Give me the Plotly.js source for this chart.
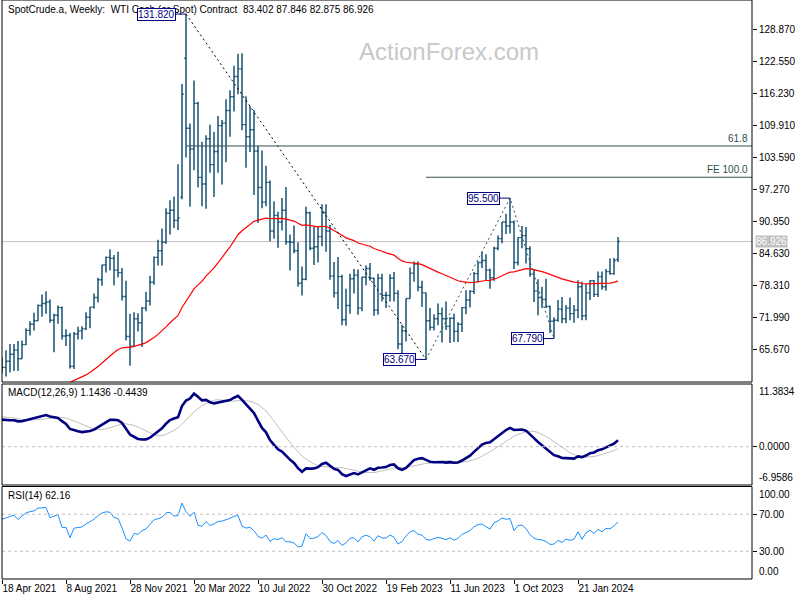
<!DOCTYPE html>
<html><head><meta charset="utf-8">
<script src="https://cdn.plot.ly/plotly-3.0.1.min.js"></script>
<style>html,body{margin:0;padding:0;background:#fff}#chart{width:800px;height:600px}</style>
</head><body><div id="chart"></div>
<script>
// ---------- data ----------
const tickBars = [0, 16, 32, 48, 64, 80, 96, 112, 128, 144];
const tickLabels = ['18 Apr 2021','8 Aug 2021','28 Nov 2021','20 Mar 2022','10 Jul 2022','30 Oct 2022','19 Feb 2023','11 Jun 2023','1 Oct 2023','21 Jan 2024'];
const priceTicks = [65.67, 71.99, 78.31, 84.63, 90.95, 97.27, 103.59, 109.91, 116.23, 122.55, 128.87];

// weekly closes before the first visible bar (indicator warm-up only, not drawn)
const historyCloses = [57.51,60.21,55.63,56.20,55.66,54.50,54.87,54.17,55.10,56.52,54.85,58.09,55.91,52.81,54.70,53.78,56.66,56.20,57.24,57.72,57.77,55.17,59.20,60.07,60.44,61.72,
63.05,59.04,58.54,54.19,51.56,50.32,52.05,53.38,44.76,41.28,31.73,22.43,21.51,28.34,22.76,18.27,16.94,19.78,24.74,29.43,33.25,35.49,39.55,36.26,39.75,38.49,40.65,40.55,40.59,41.29,40.27,41.22,42.01,42.34,42.97,39.77,37.33,41.11,40.25,37.05,40.60,40.88,39.85,35.79,37.14,40.13,42.15,45.53,46.26,46.57,49.10,48.23,
48.52,52.24,52.36,52.27,52.20,56.85,59.47,59.24,61.50,66.09,65.61,61.42,60.97,61.45,59.32,63.13];

const opens = [63.1,62.1,63.3,64.7,65.5,63.8,66.6,69.4,70.6,71.3,74.3,74.7,75.0,71.4,72.4,73.9,68.3,68.4,62.3,68.7,
69.3,69.7,72.0,74.0,75.9,79.4,82.3,83.8,83.6,81.3,80.8,76.1,68.2,66.3,71.7,70.9,73.8,75.2,78.9,83.8,
85.1,86.8,92.5,93.1,91.1,95.7,123.1,109.3,105.2,114.2,99.6,98.3,107.2,102.1,104.7,109.8,110.3,112.8,115.5,119.5,
121.0,110.0,107.6,109.0,104.8,97.6,94.7,98.6,89.0,92.1,90.8,93.1,86.9,86.8,85.1,78.7,79.5,92.6,85.6,85.9,
87.9,92.6,89.0,80.1,76.8,80.0,71.5,74.3,79.6,80.3,73.8,79.9,81.6,79.7,73.4,79.7,76.3,76.3,79.7,76.7,
66.7,69.3,75.7,80.7,82.5,77.9,76.8,71.3,70.0,71.7,72.7,71.7,70.2,71.8,69.2,70.6,73.9,75.4,77.1,80.6,
82.8,83.2,81.3,79.8,85.6,87.5,90.8,90.0,90.8,82.8,87.7,88.1,85.5,80.5,77.2,75.9,75.5,74.1,71.2,71.4,
73.6,71.7,73.8,72.7,73.4,78.0,72.3,76.8,79.2,76.5,80.0,78.0,81.0,80.6,83.402];
const highs = [64.0,65.5,66.7,66.7,67.3,67.4,69.8,71.2,72.9,74.5,76.5,77.1,75.5,72.7,74.3,74.1,69.6,68.9,69.1,70.1,
70.2,73.0,74.0,76.7,79.8,82.3,84.0,85.4,84.3,84.9,81.7,79.2,72.7,73.0,72.8,74.0,77.0,80.2,84.0,87.3,
89.5,93.5,95.1,95.8,102.2,118.0,131.82,110.2,118.7,114.5,106.6,107.9,110.0,108.6,111.7,110.9,115.0,116.8,121.6,124.0,
124.1,115.6,113.7,112.9,105.8,104.9,101.9,99.0,94.9,92.8,95.5,97.7,88.3,90.1,86.8,82.0,93.8,92.8,89.8,89.8,
94.3,94.3,90.2,82.9,83.9,80.4,77.6,80.6,81.5,81.4,80.0,82.2,82.7,79.8,80.6,80.6,77.0,80.5,80.9,77.3,
70.5,75.7,81.8,83.0,83.0,79.2,76.9,73.8,72.6,74.7,73.9,75.1,72.0,72.7,71.0,74.0,77.3,77.3,80.9,83.0,
84.9,84.4,81.6,85.9,88.1,90.8,92.4,95.5,91.1,87.8,90.0,89.8,86.0,81.5,79.5,78.0,79.6,74.3,72.0,75.4,
76.0,74.4,75.9,74.4,79.3,79.0,78.5,79.3,79.3,81.0,81.0,81.5,83.6,83.7,87.846];
const lows = [61.0,60.3,61.1,61.4,61.4,63.8,66.5,68.4,69.4,71.3,72.1,72.7,70.9,65.1,70.7,67.6,66.3,61.9,61.8,67.6,
67.6,69.5,69.8,73.7,74.9,78.2,80.8,81.2,78.3,79.9,75.3,67.4,62.4,66.1,69.2,66.1,73.2,74.3,78.4,82.2,
82.2,86.5,88.3,89.6,89.2,95.3,103.5,93.8,101.0,97.6,93.9,93.4,100.5,95.7,100.5,98.2,102.6,107.6,112.6,116.0,
108.9,101.5,104.6,96.1,90.6,93.5,93.9,87.0,87.5,85.7,89.1,86.3,81.2,84.6,78.0,76.3,79.3,85.2,82.3,82.8,
86.0,84.9,79.4,75.9,73.6,70.4,70.3,72.7,76.7,72.5,73.2,78.3,79.2,72.3,72.5,75.1,73.8,75.1,75.1,65.7,
64.9,67.2,75.7,79.0,77.1,74.0,63.67,69.4,69.4,70.4,67.0,69.5,66.9,67.1,67.1,69.1,72.6,73.9,76.6,78.9,
81.7,79.3,77.6,79.2,85.2,86.6,88.4,88.5,81.5,82.2,85.6,82.6,80.0,75.0,72.4,73.8,73.8,68.9,67.79,71.1,
70.8,70.8,71.4,70.9,71.8,71.4,71.4,75.4,76.0,76.0,77.4,77.2,80.4,80.4,82.875];
const closes = [62.1,63.3,64.7,65.5,63.8,66.6,69.4,70.6,71.3,74.3,74.7,75.0,71.4,72.4,73.9,68.3,68.4,62.3,68.7,69.3,
69.7,72.0,74.0,75.9,79.4,82.3,83.8,83.6,81.3,80.8,76.1,68.2,66.3,71.7,70.9,73.8,75.2,78.9,83.8,85.1,
86.8,92.5,93.1,91.1,91.6,116.0,109.3,105.2,114.2,99.6,98.3,107.2,102.1,104.7,109.8,110.3,112.8,115.5,119.5,121.0,
110.0,107.6,109.0,104.8,97.6,94.7,98.6,89.0,92.1,90.8,93.1,86.9,86.8,85.1,78.7,79.5,92.6,85.6,85.9,87.9,
92.6,89.0,80.1,76.8,80.0,71.5,74.3,79.6,80.3,73.8,79.9,81.6,79.7,73.4,79.7,76.3,76.3,79.7,76.7,66.7,
69.3,75.7,80.7,82.5,77.9,76.8,71.3,70.0,71.7,72.7,71.7,70.2,71.8,69.2,70.6,73.9,75.4,77.1,80.6,82.8,
83.2,81.3,79.8,85.6,87.5,90.8,90.0,90.8,82.8,87.7,88.1,85.5,80.5,77.2,75.9,75.5,74.1,71.2,71.4,73.6,
71.7,73.8,72.7,73.4,78.0,72.3,76.8,79.2,76.5,80.0,78.0,81.0,80.6,83.2,86.926];

const macdHeader = ['1.1436', '-0.4439'];
const rsiHeader = '62.16';
const macdScale = [-6.9586, 11.3834];
const fibRatio = 0.618;
const feRatio = 1.0;

// ---------- indicators (computed from the closes) ----------
function ema(arr, n) {
  const k = 2 / (n + 1); const out = []; let prev = arr[0];
  for (let i = 0; i < arr.length; i++) { prev = i === 0 ? arr[0] : arr[i] * k + prev * (1 - k); out.push(prev); }
  return out;
}
function sma(arr, n) {
  const out = [];
  for (let i = 0; i < arr.length; i++) {
    const s = Math.max(0, i - n + 1); let t = 0;
    for (let j = s; j <= i; j++) t += arr[j];
    out.push(t / (i - s + 1));
  }
  return out;
}
function rsi(arr, n) {
  const out = [null]; let ag = 0, al = 0;
  for (let i = 1; i < arr.length; i++) {
    const d = arr[i] - arr[i - 1]; const g = Math.max(d, 0), l = Math.max(-d, 0);
    if (i <= n) { ag += g / n; al += l / n; }
    else { ag = (ag * (n - 1) + g) / n; al = (al * (n - 1) + l) / n; }
    out.push(al === 0 ? 100 : 100 - 100 / (1 + ag / al));
  }
  return out;
}
const full = historyCloses.concat(closes);
const off = historyCloses.length;
const ema55 = ema(full, 55).slice(off);
const e12 = ema(full, 12), e26 = ema(full, 26);
const macdFull = e12.map((v, i) => v - e26[i]);
const sigFull = sma(macdFull, 9);
const macd = macdFull.slice(off), signal = sigFull.slice(off);
const rsi14 = rsi(full, 14).slice(off);

const bars = closes.map((_, i) => i);
const N = closes.length;
const xMax = 187.5;

// swing points (zigzag) from the data
function argmax(a, s, e) { let b = s; for (let i = s; i <= e; i++) if (a[i] > a[b]) b = i; return b; }
function argmin(a, s, e) { let b = s; for (let i = s; i <= e; i++) if (a[i] < a[b]) b = i; return b; }
const p1 = argmax(highs, 0, N - 1);
const p2 = argmin(lows, p1, N - 1);
const p3 = argmax(highs, p2, N - 1);
const p4 = argmin(lows, p3, N - 1);
const fib618 = lows[p2] + fibRatio * (highs[p1] - lows[p2]);
const fe100 = lows[p4] + feRatio * (highs[p3] - lows[p2]);

// ---------- styling ----------
const FONT = 'Liberation Sans, Arial, sans-serif';
const BAR = '#084869';
const NAVY = '#000080';
const SLATE = '#2f4f4f';

const traces = [
  { type: 'ohlc', x: bars, open: opens, high: highs, low: lows, close: closes, xaxis: 'x', yaxis: 'y',
    increasing: { line: { color: BAR, width: 1.4 } }, decreasing: { line: { color: BAR, width: 1.4 } },
    tickwidth: 0.42, hoverinfo: 'skip' },
  { type: 'scatter', mode: 'lines', x: bars, y: ema55, xaxis: 'x', yaxis: 'y', line: { color: '#ff0000', width: 1.2 }, hoverinfo: 'skip' },
  { type: 'scatter', mode: 'lines', x: [p1, p2], y: [highs[p1], lows[p2]], xaxis: 'x', yaxis: 'y', line: { color: '#000000', width: 1, dash: '2px,3px' }, hoverinfo: 'skip' },
  { type: 'scatter', mode: 'lines', x: [p2, p3, p4], y: [lows[p2], highs[p3], lows[p4]], xaxis: 'x', yaxis: 'y', line: { color: SLATE, width: 1, dash: '2px,3px' }, hoverinfo: 'skip' },
  { type: 'scatter', mode: 'lines', x: bars, y: signal, xaxis: 'x', yaxis: 'y2', line: { color: '#c0c0c0', width: 1 }, hoverinfo: 'skip' },
  { type: 'scatter', mode: 'lines', x: bars, y: macd, xaxis: 'x', yaxis: 'y2', line: { color: NAVY, width: 2.6 }, hoverinfo: 'skip' },
  { type: 'scatter', mode: 'lines', x: bars, y: rsi14, xaxis: 'x', yaxis: 'y3', line: { color: '#1e90ff', width: 1 }, hoverinfo: 'skip' }
];

const H = 579;
const domMain = [(H - 382) / H, 1];
const domMacd = [(H - 485) / H, (H - 384) / H];
const domRsi = [0, (H - 486.5) / H];

function frame(d) { return { type: 'rect', xref: 'paper', yref: 'paper', x0: 0, x1: 1, y0: d[0], y1: d[1], line: { color: '#000', width: 1 }, layer: 'above' }; }
function hline(yref, y, color, dash, x0, xref) {
  return { type: 'line', xref: xref || 'paper', yref: yref, x0: x0 === undefined ? 0 : x0, x1: xref === 'x' ? xMax : 1, y0: y, y1: y, line: { color: color, width: 1, dash: dash || 'solid' }, layer: 'above' };
}
const shapes = [
  Object.assign(hline('y', closes[N - 1], '#c0c0c0'), { layer: 'below' }),
  hline('y', fib618, SLATE, 'solid', p1, 'x'),
  hline('y', fe100, SLATE, 'solid', p2, 'x'),
  hline('y2', 0, '#c0c0c0', '3px,3px'),
  hline('y3', 70, '#c0c0c0', '3px,3px'),
  hline('y3', 30, '#c0c0c0', '3px,3px'),
  frame(domMain), frame(domMacd), frame(domRsi)
];

function swingLabel(i, v) {
  return { x: i, y: v, xref: 'x', yref: 'y', text: v.toFixed(3), showarrow: true, arrowhead: 0, arrowwidth: 1, arrowcolor: NAVY,
    ax: -10, ay: 0, axref: 'pixel', ayref: 'pixel', xanchor: 'right', yanchor: 'middle', standoff: 0,
    bgcolor: '#ffffff', bordercolor: NAVY, borderwidth: 1, borderpad: 0, font: { family: FONT, size: 10, color: NAVY } };
}
function axisText(yref, y, txt, anchor) {
  return { xref: 'paper', x: 1, xanchor: 'left', xshift: 5, yref: yref, y: y, yanchor: anchor, text: txt, showarrow: false, font: { family: FONT, size: 10, color: '#000' } };
}
const last = N - 1;
const header = 'SpotCrude.a, Weekly:\u00a0\u00a0WTI Cash (or Spot) Contract\u00a0\u00a0' +
  [opens[last], highs[last], lows[last], closes[last]].map(v => v.toFixed(3)).join(' ');

const annotations = [
  { xref: 'paper', yref: 'paper', x: 0, y: 1, xanchor: 'left', yanchor: 'top', xshift: 4, yshift: -2, text: header, showarrow: false, font: { family: FONT, size: 10, color: '#000' } },
  { xref: 'paper', yref: 'paper', x: (449 - 2) / 750, y: 1 - 52 / H, xanchor: 'center', yanchor: 'middle', text: 'ActionForex.com', showarrow: false, font: { family: FONT, size: 24, color: '#c8c8c8' } },
  swingLabel(p1, highs[p1]), swingLabel(p2, lows[p2]), swingLabel(p3, highs[p3]), swingLabel(p4, lows[p4]),
  { xref: 'paper', x: 1, xanchor: 'right', xshift: -2, yref: 'y', y: fib618, yanchor: 'bottom', text: (fibRatio * 100).toFixed(1), showarrow: false, font: { family: FONT, size: 10, color: SLATE } },
  { xref: 'paper', x: 1, xanchor: 'right', xshift: -2, yref: 'y', y: fe100, yanchor: 'bottom', text: 'FE ' + (feRatio * 100).toFixed(1), showarrow: false, font: { family: FONT, size: 10, color: SLATE } },
  { xref: 'paper', x: 1, xanchor: 'left', xshift: 3, yref: 'y', y: closes[last], yanchor: 'middle', text: closes[last].toFixed(3), showarrow: false, bgcolor: '#c0c0c0', borderpad: 0, font: { family: FONT, size: 10, color: '#ffffff' } },
  { xref: 'paper', yref: 'paper', x: 0, y: domMacd[1], xanchor: 'left', yanchor: 'top', xshift: 4, yshift: -1, text: 'MACD(12,26,9) ' + macdHeader.join(' '), showarrow: false, font: { family: FONT, size: 10, color: '#000' } },
  { xref: 'paper', yref: 'paper', x: 0, y: domRsi[1], xanchor: 'left', yanchor: 'top', xshift: 4, yshift: -1, text: 'RSI(14) ' + rsiHeader, showarrow: false, font: { family: FONT, size: 10, color: '#000' } },
  axisText('y2', macdScale[1], macdScale[1].toFixed(4), 'top'),
  axisText('y2', 0, (0).toFixed(4), 'middle'),
  axisText('y2', macdScale[0], macdScale[0].toFixed(4), 'bottom'),
  axisText('y3', 100, (100).toFixed(2), 'top'),
  axisText('y3', 70, (70).toFixed(2), 'middle'),
  axisText('y3', 30, (30).toFixed(2), 'middle'),
  axisText('y3', 0, (0).toFixed(2), 'bottom')
];

const layout = {
  width: 800, height: 600, margin: { l: 2, r: 48, t: 0, b: 21 },
  paper_bgcolor: '#ffffff', plot_bgcolor: '#ffffff', showlegend: false,
  font: { family: FONT, size: 10, color: '#000' },
  xaxis: { range: [0, xMax], anchor: 'y3', showgrid: false, zeroline: false, showline: false,
    tickvals: tickBars, ticktext: tickLabels, ticks: 'outside', ticklen: 4, tickcolor: '#000', tickangle: 0,
    ticklabelposition: 'outside right', tickfont: { family: FONT, size: 10 }, rangeslider: { visible: false }, fixedrange: true },
  yaxis: { domain: domMain, range: [59.216, 134.592], side: 'right', anchor: 'x', showgrid: false, zeroline: false,
    tickvals: priceTicks, ticktext: priceTicks.map(v => v.toFixed(3)), ticks: 'outside', ticklen: 4, tickcolor: '#000',
    tickfont: { family: FONT, size: 10 }, fixedrange: true },
  yaxis2: { domain: domMacd, range: [macdScale[0], macdScale[1]], side: 'right', anchor: 'x', showgrid: false, zeroline: false,
    tickvals: [0], ticks: 'outside', ticklen: 4, tickcolor: '#000', showticklabels: false, fixedrange: true },
  yaxis3: { domain: domRsi, range: [0, 100], side: 'right', anchor: 'x', showgrid: false, zeroline: false,
    tickvals: [30, 70], ticks: 'outside', ticklen: 4, tickcolor: '#000', showticklabels: false, fixedrange: true },
  shapes: shapes, annotations: annotations
};

Plotly.newPlot('chart', traces, layout, { staticPlot: true, displayModeBar: false });
</script>
</body></html>
